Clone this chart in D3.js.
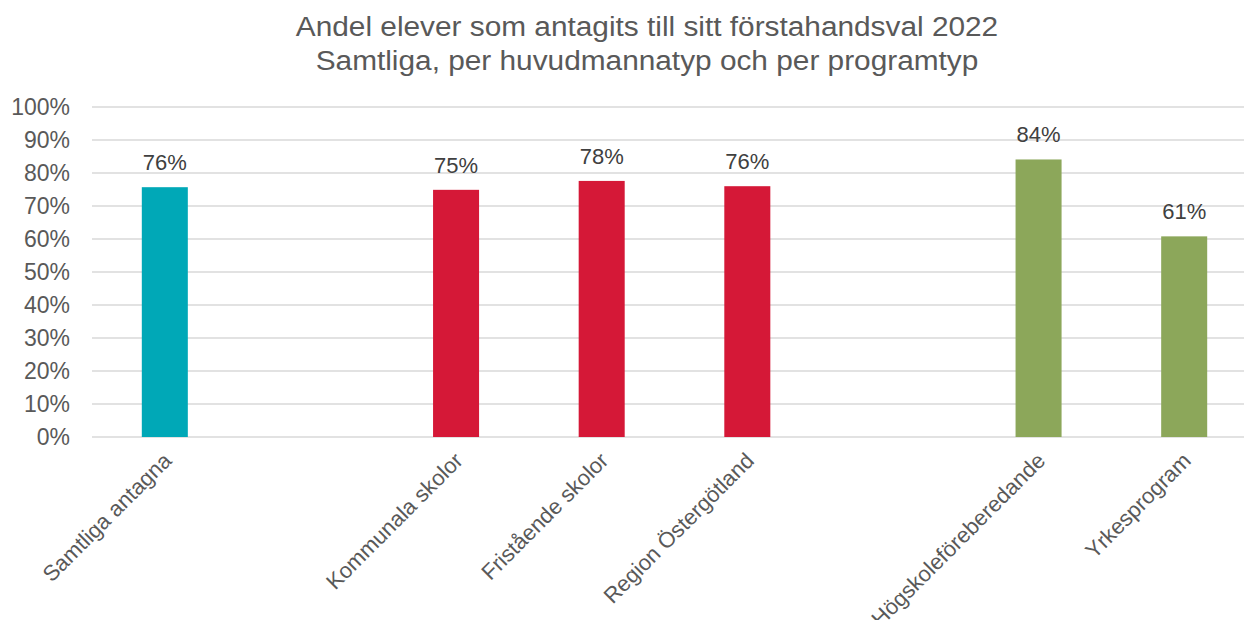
<!DOCTYPE html>
<html>
<head>
<meta charset="utf-8">
<script src="https://cdn.jsdelivr.net/npm/d3@7"></script>
<style>
  body { margin: 0; background: #fff; }
  svg { font-family: "Liberation Sans", Arial, sans-serif; }
</style>
</head>
<body>
<div id="chart"></div>
<script>
// categories, blanks make the gaps between the groups
var categories = ["Samtliga antagna", "gap1", "Kommunala skolor", "Fristående skolor", "Region Östergötland", "gap2", "Högskoleföreberedande", "Yrkesprogram"]
var values = [0.757, null, 0.749, 0.776, 0.76, null, 0.841, 0.608]
var groups = ["all", null, "huvudman", "huvudman", "huvudman", null, "program", "program"]
var yTicks = [0, 0.1, 0.2, 0.3, 0.4, 0.5, 0.6, 0.7, 0.8, 0.9, 1]
var titleLines = ["Andel elever som antagits till sitt förstahandsval 2022", "Samtliga, per huvudmannatyp och per programtyp"]

var colors = { all: "#00A8B7", huvudman: "#D51837", program: "#8CA75A" }

var width = 1244
var height = 620
var margin = {top: 107, right: -13, bottom: 183, left: 92}

var svg = d3.select("#chart")
  .append("svg")
  .attr("width", width)
  .attr("height", height)

var innerW = width - margin.left - margin.right
var innerH = height - margin.top - margin.bottom

var g = svg.append("g").attr("transform", "translate(" + margin.left + "," + margin.top + ")")

var x = d3.scaleBand()
  .domain(categories)
  .range([0, innerW])
  .paddingInner(0.684)
  .paddingOuter(0.342)

var y = d3.scaleLinear()
  .domain([0, 1])
  .range([innerH, 0])

// title (Excel renders it a bit wider, so stretch a little)
svg.append("g")
  .attr("transform", "translate(647,0) scale(1.065,1)")
  .selectAll("text")
  .data(titleLines)
  .enter().append("text")
    .attr("x", 0)
    .attr("y", function(d, i) { return 36 + i * 34 })
    .attr("text-anchor", "middle")
    .attr("font-size", 28)
    .attr("fill", "#595959")
    .text(function(d) { return d })

// gridlines
g.append("g")
  .selectAll("line")
  .data(yTicks)
  .enter().append("line")
    .attr("x1", 0)
    .attr("x2", innerW)
    .attr("y1", function(d) { return y(d) })
    .attr("y2", function(d) { return y(d) })
    .attr("stroke", "#D9D9D9")
    .attr("stroke-width", 1.5)

// y axis
var yAxis = g.append("g")
  .call(d3.axisLeft(y).tickValues(yTicks).tickFormat(d3.format(".0%")).tickSize(0).tickPadding(22))
yAxis.select(".domain").remove()
yAxis.selectAll("text")
  .attr("font-size", 23)
  .attr("fill", "#595959")
  .attr("font-family", "Liberation Sans, Arial, sans-serif")

// x axis labels
var xAxis = g.append("g")
  .attr("transform", "translate(0," + innerH + ")")
  .call(d3.axisBottom(x).tickSize(0).tickFormat(function(d) { return d.indexOf("gap") == 0 ? "" : d }))
xAxis.select(".domain").remove()
xAxis.selectAll("text")
  .attr("font-size", 22)
  .attr("fill", "#595959")
  .attr("font-family", "Liberation Sans, Arial, sans-serif")
  .attr("text-anchor", "end")
  .attr("dy", "0.7em")
  .attr("transform", "translate(-5,12) rotate(-45)")

var data = categories.map(function(c, i) { return {cat: c, value: values[i], group: groups[i]} })
  .filter(function(d) { return d.value != null })

// bars
g.append("g")
  .selectAll("rect")
  .data(data)
  .enter().append("rect")
    .attr("x", function(d) { return x(d.cat) })
    .attr("y", function(d) { return y(d.value) })
    .attr("width", x.bandwidth())
    .attr("height", function(d) { return innerH - y(d.value) })
    .attr("fill", function(d) { return colors[d.group] })

// value labels
g.append("g")
  .selectAll("text")
  .data(data)
  .enter().append("text")
    .attr("x", function(d) { return x(d.cat) + x.bandwidth() / 2 })
    .attr("y", function(d) { return y(d.value) - 17 })
    .attr("text-anchor", "middle")
    .attr("font-size", 22)
    .attr("fill", "#404040")
    .text(function(d) { return d3.format(".0%")(d.value) })
</script>
</body>
</html>
